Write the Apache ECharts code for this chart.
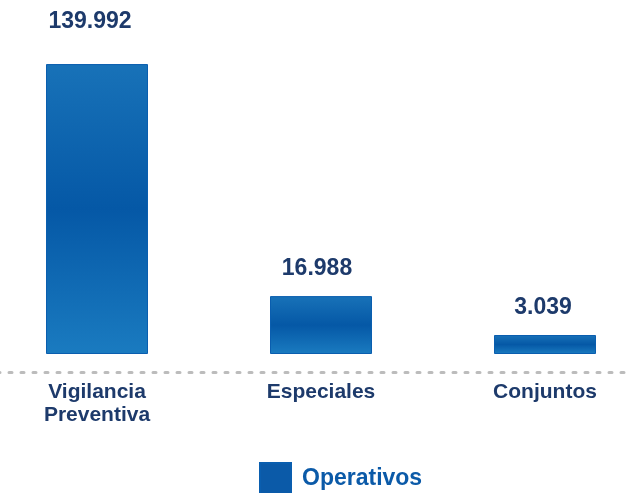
<!DOCTYPE html>
<html>
<head>
<meta charset="utf-8">
<script src="https://cdn.jsdelivr.net/npm/echarts@6/dist/echarts.min.js"></script>
<style>
  html, body { margin: 0; padding: 0; background: #fff; overflow: hidden; width: 630px; height: 493px; }
  /* el lienzo se extiende un poco fuera de la ventana para centrar las barras como en la lamina */
  #chart { position: absolute; left: -15px; top: 0; width: 672px; height: 493px; }
</style>
</head>
<body>
<div id="chart"></div>
<script>
// categorias y valores (miles)
const categories = ['Vigilancia\nPreventiva', 'Especiales', 'Conjuntos'];
const values = [139.992, 16.988, 3.039];
const labelTexts = ['139.992', '16.988', '3.039'];
const seriesName = 'Operativos';

const navy = '#1d3a6b';
const blue = '#0b5aa8';

const chart = echarts.init(document.getElementById('chart'));

// la barra grande va mas arriba, su etiqueta queda pegada al borde superior
const labelDistance = [31, 16, 16];
const labelOffset = [[-7, 0], [-4, 0], [-2, 0]];

const option = {
  animation: false,
  grid: { left: 0, right: 0, top: 64, bottom: 139 },
  legend: {
    left: 269,
    top: 457,
    itemWidth: 31,
    itemHeight: 31,
    icon: 'rect',
    textStyle: { fontFamily: 'Liberation Sans', fontSize: 23, fontWeight: 'bold', color: blue, padding: [0, 0, 0, 6] },
    data: [{ name: seriesName, itemStyle: { color: blue } }]
  },
  xAxis: {
    type: 'category',
    data: categories,
    offset: 18,
    axisTick: { show: false },
    axisLine: {
      onZero: false,
      lineStyle: { color: '#bcbcbc', width: 3, type: [3, 9], cap: 'round' }
    },
    axisLabel: {
      margin: 9,
      fontFamily: 'Liberation Sans',
      fontSize: 21,
      fontWeight: 'bold',
      lineHeight: 23,
      color: navy,
      interval: 0
    }
  },
  yAxis: {
    type: 'value',
    min: 0,
    max: 140,
    show: false,
    splitLine: { show: false },
    // escala comprimida como en la lamina original
    breaks: [
      { start: 4, end: 14, gap: '4.9%' },
      { start: 20, end: 130, gap: '52%' }
    ],
    breakArea: { show: false }
  },
  series: [{
    name: seriesName,
    type: 'bar',
    barWidth: 102,
    itemStyle: {
      color: new echarts.graphic.LinearGradient(0, 0, 0, 1, [
        { offset: 0, color: '#1872b8' },
        { offset: 0.5, color: '#0558a6' },
        { offset: 1, color: '#1a7bc0' }
      ]),
      borderColor: '#0a5eaf',
      borderWidth: 1
    },
    data: values.map(function (v, i) {
      return {
        value: v,
        label: {
          show: true,
          position: 'top',
          distance: labelDistance[i],
          offset: labelOffset[i],
          formatter: labelTexts[i],
          fontFamily: 'Liberation Sans',
          fontSize: 23,
          fontWeight: 'bold',
          color: navy
        }
      };
    })
  }]
};

chart.setOption(option);
</script>
</body>
</html>
